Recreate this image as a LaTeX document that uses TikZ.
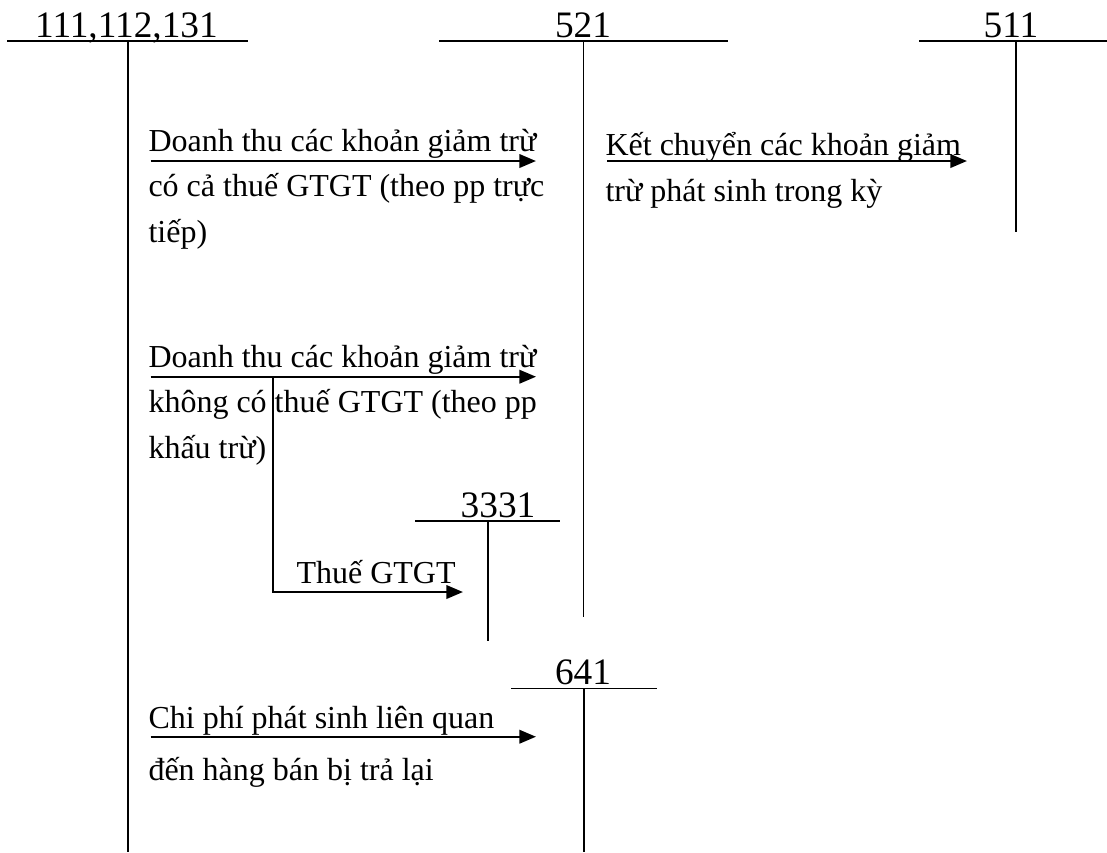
\documentclass[tikz,border=0pt]{standalone}
\usepackage{fontspec}
\setmainfont{Liberation Serif}
\usepackage{tikz}
\usetikzlibrary{arrows.meta}

\tikzset{
  acct/.style={font=\fontsize{14pt}{16pt}\selectfont,inner sep=0pt,anchor=base},
  txt/.style={font=\fontsize{12pt}{16.9pt}\selectfont,inner sep=0pt,align=left,anchor=base west},
  flow/.style={->,line width=0.9pt},
  tline/.style={line width=0.6pt}
}

\begin{document}
\begin{tikzpicture}[x=0.375pt,y=-0.375pt,>={Triangle[length=6.2pt,width=5pt]}]
  \useasboundingbox (0,0) rectangle (1107,852);
  % T-accounts
  \foreach \n/\lbl/\lx/\l/\r/\t/\p/\b in {
      a/{111,112,131}/126.5/7/248/40.7/127.7/852,
      b/521/583/439/728/40.7/583.3/616.7,
      c/511/1011/919/1107/40.7/1016/232,
      d/3331/498/415/560/520.7/488/640.7,
      e/641/583/511/657/688.3/584/852} {
    \draw[tline] (\l,\t) -- (\r,\t);
    \draw[tline] (\p,\t) -- (\p,\b);
    \node[acct] (acc\n) at (\lx,\t-3.4) {\lbl};
  }

  % entries (node base = last line)
  \node[txt] (dtco) at (148,242) {Doanh thu các khoản giảm trừ\\có cả thuế GTGT (theo pp trực\\tiếp)};
  \node[txt] (kc) at (605,201) {Kết chuyển các khoản giảm\\trừ phát sinh trong kỳ};
  \node[txt] (dtkhong) at (148,458) {Doanh thu các khoản giảm trừ\\không có thuế GTGT (theo pp\\khấu trừ)};
  \node[txt] (thue) at (296,583) {Thuế GTGT};
  \node[txt] (cp) at (148,780) {Chi phí phát sinh liên quan\\[2.6pt]đến hàng bán bị trả lại};

  \coordinate (s1) at (150.7,161);   \coordinate (t1) at (536,161);
  \coordinate (s2) at (607,161);     \coordinate (t2) at (967,161);
  \coordinate (s3) at (150.7,376.7); \coordinate (t3) at (536,376.7);
  \coordinate (s4) at (272.7,376.7); \coordinate (t4) at (463,592);
  \coordinate (s5) at (150.7,736.7); \coordinate (t5) at (536,736.7);

  \draw[flow] (s1) -- (t1);
  \draw[flow] (s2) -- (t2);
  \draw[flow] (s3) -- (t3);
  \draw[flow] (s4) |- (t4);
  \draw[flow] (s5) -- (t5);
\end{tikzpicture}
\end{document}
